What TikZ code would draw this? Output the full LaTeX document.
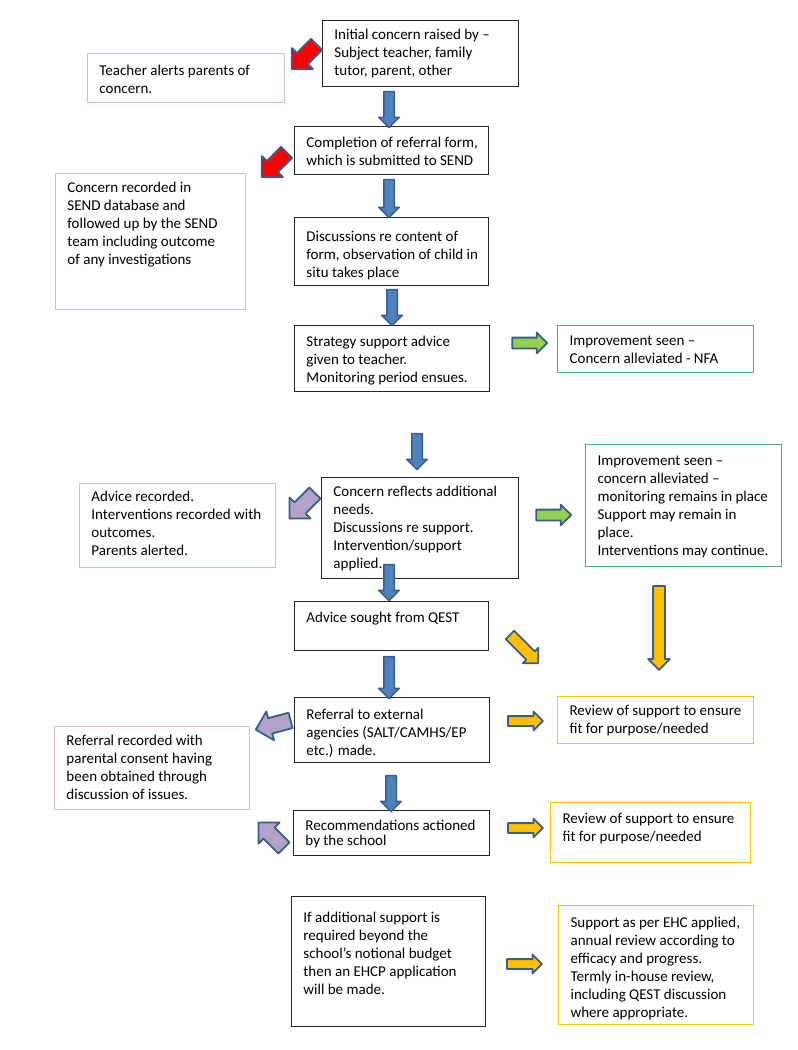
\documentclass[tikz,border=0pt]{standalone}
\usepackage{fontspec}
\setmainfont{Carlito}
\usetikzlibrary{shapes.arrows}

\definecolor{edgeblue}{RGB}{56,93,138}
\definecolor{flowblue}{RGB}{79,129,189}
\definecolor{flowred}{RGB}{255,0,0}
\definecolor{flowgreen}{RGB}{146,208,80}
\definecolor{flowpurple}{RGB}{179,162,199}
\definecolor{flowyellow}{RGB}{255,192,0}
\definecolor{pinkline}{RGB}{230,185,184}
\definecolor{greenline}{RGB}{80,180,110}

% text block inside a box: width, height, optional top gap
\newcommand{\boxtxt}[4][6pt]{\begin{minipage}[c][#3pt][t]{#2pt}\vspace*{#1}\raggedright\leftskip=12pt\strut #4\end{minipage}}

\begin{document}
\begin{tikzpicture}[x=1pt,y=-1pt,
	every node/.style={font=\fontsize{15}{18}\selectfont},
	flowbox/.style={draw=black!85, line width=0.9pt, anchor=north west, inner sep=0pt},
	pinkbox/.style={flowbox, draw=pinkline, line width=0.9pt},
	greenbox/.style={flowbox, draw=greenline, line width=1.2pt},
	yellowbox/.style={flowbox, draw=flowyellow, line width=1.2pt},
	blockarrow/.style n args={3}{single arrow, draw=edgeblue, line width=1.8pt, line join=round,
		minimum height=#1pt, inner xsep=0pt, inner ysep=#2pt, single arrow head extend=#3pt},
	bluedown/.style={blockarrow={#1}{4.5}{5}, line width=1.5pt, fill=flowblue, rotate=-90},
	redarrow/.style={blockarrow={35}{7}{7}, fill=flowred, rotate=#1},
	purplearrow/.style={blockarrow={36}{7}{7}, fill=flowpurple, rotate=#1},
	greenarrow/.style={blockarrow={35}{4.5}{5}, fill=flowgreen},
	yellowarrow/.style={blockarrow={35}{4}{4.5}, fill=flowyellow}]
	\useasboundingbox (0,0) rectangle (798,1050);

	% main column
	\node[flowbox] (initial) at (322,20) {\boxtxt{196}{66}{Initial concern raised by –\\ Subject teacher, family\\ tutor, parent, other}};
	\node[flowbox] (form) at (294,126) {\boxtxt[8pt]{194}{48}{Completion of referral form,\\ which is submitted to SEND}};
	\node[flowbox] (discuss) at (294,217) {\boxtxt[11pt]{194}{68}{Discussions re content of\\ form, observation of child in\\ situ takes place}};
	\node[flowbox] (strategy) at (294,325) {\boxtxt[8pt]{195}{66}{Strategy support advice\\ given to teacher.\\ Monitoring period ensues.}};
	\node[flowbox] (needs) at (321,477) {\boxtxt{197}{101}{Concern reflects additional\\ needs.\\ Discussions re support.\\ Intervention/support\\ applied.}};
	\node[flowbox] (qest) at (294,601) {\boxtxt[8pt]{194}{49}{Advice sought from QEST}};
	\node[flowbox] (external) at (294,697) {\boxtxt[9pt]{195}{65}{Referral to external\\ agencies (SALT/CAMHS/EP\\ etc.) made.}};
	\node[flowbox] (actioned) at (293,810) {\boxtxt[7pt]{196}{45}{Recommendations actioned\\[-3pt] by the school}};
	\node[flowbox] (ehcp) at (291,896) {\boxtxt[13pt]{194}{130}{If additional support is\\ required beyond the\\ school’s notional budget\\ then an EHCP application\\ will be made.}};

	% left column
	\node[pinkbox] (alert) at (87,53) {\boxtxt[9pt]{197}{49}{Teacher alerts parents of\\ concern.}};
	\node[pinkbox] (database) at (55,173) {\boxtxt{190}{136}{Concern recorded in\\ SEND database and\\ followed up by the SEND\\ team including outcome\\ of any investigations}};
	\node[pinkbox] (advice) at (79,483) {\boxtxt[5pt]{196}{84}{Advice recorded.\\ Interventions recorded with\\ outcomes.\\ Parents alerted.}};
	\node[pinkbox] (consent) at (54,726) {\boxtxt{195}{83}{Referral recorded with\\ parental consent having\\ been obtained through\\ discussion of issues.}};

	% right column
	\node[greenbox] (nfa) at (557,325) {\boxtxt[7pt]{196}{47}{Improvement seen –\\ Concern alleviated - NFA}};
	\node[greenbox] (alleviated) at (585,444) {\boxtxt[8pt]{196}{122}{Improvement seen –\\ concern alleviated –\\ monitoring remains in place\\ Support may remain in\\ place.\\ Interventions may continue.}};
	\node[yellowbox] (review1) at (557,696) {\boxtxt{196}{47}{Review of support to ensure\\ fit for purpose/needed}};
	\node[yellowbox] (review2) at (550,802) {\boxtxt[8pt]{200}{60}{Review of support to ensure\\ fit for purpose/needed}};
	\node[yellowbox] (ehc) at (558,905) {\boxtxt[9pt]{195}{119}{Support as per EHC applied,\\ annual review according to\\ efficacy and progress.\\ Termly in-house review,\\ including QEST discussion\\ where appropriate.}};

	% down arrows
	\node[bluedown=36] (down1) at (389,107) {};
	\node[bluedown=38] (down2) at (389,196) {};
	\node[bluedown=36] (down3) at (392,305) {};
	\node[bluedown=36] (down4) at (417,449) {};
	\node[bluedown=36] (down5) at (389,580) {};
	\node[bluedown=42] (down6) at (389,675) {};
	\node[bluedown=36] (down7) at (391,791) {};

	% side arrows
	\node[redarrow=225] (red1) at (307,54) {};
	\node[redarrow=225] (red2) at (277,162) {};
	\node[greenarrow] (green1) at (527,343) {};
	\node[greenarrow] (green2) at (551,515) {};
	\node[purplearrow=225] (purple1) at (305,503) {};
	\node[purplearrow=195] (purple2) at (277,724) {};
	\node[purplearrow=135] (purple3) at (274,838) {};
	\node[blockarrow={40}{5}{5}, fill=flowyellow, rotate=-45] (yellow1) at (522,647) {};
	\node[blockarrow={84}{5}{5}, fill=flowyellow, rotate=-90] (yellow2) at (659,625) {};
	\node[yellowarrow] (yellow3) at (523,721) {};
	\node[yellowarrow] (yellow4) at (523,828) {};
	\node[yellowarrow] (yellow5) at (522,964) {};
\end{tikzpicture}
\end{document}
